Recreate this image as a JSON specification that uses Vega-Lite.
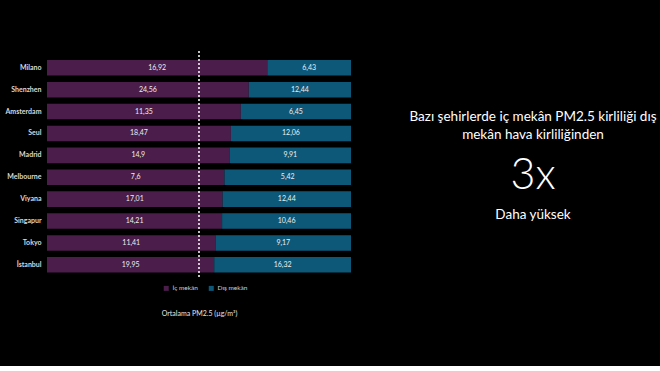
{
  "$schema": "https://vega.github.io/schema/vega-lite/v6.json",
  "background": "#000000",
  "padding": {"left": 4, "top": 50, "right": 2, "bottom": 50},
  "config": {
    "view": {"stroke": null},
    "font": "Lato",
    "concat": {"spacing": 52},
    "locale": {"number": {"decimal": ",", "thousands": ".", "grouping": [3], "currency": ["", " €"]}}
  },
  "datasets": {
    "pm": [
      {"city": "Milano", "type": "İç mekân", "value": 16.92},
      {"city": "Milano", "type": "Dış mekân", "value": 6.43},
      {"city": "Shenzhen", "type": "İç mekân", "value": 24.56},
      {"city": "Shenzhen", "type": "Dış mekân", "value": 12.44},
      {"city": "Amsterdam", "type": "İç mekân", "value": 11.35},
      {"city": "Amsterdam", "type": "Dış mekân", "value": 6.45},
      {"city": "Seul", "type": "İç mekân", "value": 18.47},
      {"city": "Seul", "type": "Dış mekân", "value": 12.06},
      {"city": "Madrid", "type": "İç mekân", "value": 14.9},
      {"city": "Madrid", "type": "Dış mekân", "value": 9.91},
      {"city": "Melbourne", "type": "İç mekân", "value": 7.6},
      {"city": "Melbourne", "type": "Dış mekân", "value": 5.42},
      {"city": "Viyana", "type": "İç mekân", "value": 17.01},
      {"city": "Viyana", "type": "Dış mekân", "value": 12.44},
      {"city": "Singapur", "type": "İç mekân", "value": 14.21},
      {"city": "Singapur", "type": "Dış mekân", "value": 10.46},
      {"city": "Tokyo", "type": "İç mekân", "value": 11.41},
      {"city": "Tokyo", "type": "Dış mekân", "value": 9.17},
      {"city": "İstanbul", "type": "İç mekân", "value": 19.95},
      {"city": "İstanbul", "type": "Dış mekân", "value": 16.32}
    ],
    "note": [
      {"head": ["Bazı şehirlerde iç mekân PM2.5 kirliliği dış", "mekân hava kirliliğinden"], "big": "3x", "sub": "Daha yüksek"}
    ]
  },
  "hconcat": [
    {
      "width": 304,
      "height": 227,
      "layer": [
        {
          "data": {"name": "pm"},
          "transform": [
            {"stack": "value", "groupby": ["city"], "sort": [{"field": "type", "order": "descending"}], "offset": "normalize", "as": ["x0", "x1"]}
          ],
          "mark": {"type": "bar"},
          "encoding": {
            "y": {
              "field": "city", "type": "nominal",
              "sort": ["Milano", "Shenzhen", "Amsterdam", "Seul", "Madrid", "Melbourne", "Viyana", "Singapur", "Tokyo", "İstanbul"],
              "scale": {"paddingInner": 0.29, "paddingOuter": 0.33, "align": 0.625, "round": false},
              "axis": {"title": null, "domain": false, "ticks": false, "labelPadding": 6, "labelFontSize": 7, "labelFontWeight": "bold", "labelColor": "#d9d9d9"}
            },
            "x": {
              "field": "x0", "type": "quantitative",
              "scale": {"domain": [0, 1]},
              "axis": {"labels": false, "ticks": false, "domain": false, "grid": false, "title": "Ortalama PM2.5 (µg/m³)", "titleFontSize": 7, "titleFontWeight": "normal", "titleColor": "#e6e6e6", "titlePadding": 31}
            },
            "x2": {"field": "x1"},
            "color": {
              "field": "type", "type": "nominal",
              "scale": {"domain": ["İç mekân", "Dış mekân"], "range": ["#4b1d4a", "#0d5878"]},
              "legend": {"orient": "none", "legendX": 116, "legendY": 234, "direction": "horizontal", "title": null, "symbolType": "square", "symbolSize": 25, "symbolStrokeWidth": 0, "labelFontSize": 6.5, "labelColor": "#d0d0d0", "columnSpacing": 5, "labelOffset": 3}
            }
          }
        },
        {
          "data": {"name": "pm"},
          "transform": [
            {"stack": "value", "groupby": ["city"], "sort": [{"field": "type", "order": "descending"}], "offset": "normalize", "as": ["x0", "x1"]},
            {"calculate": "(datum.x0 + datum.x1) / 2", "as": "mid"}
          ],
          "mark": {"type": "text", "fontSize": 7, "color": "#eeeeee"},
          "encoding": {
            "y": {"field": "city", "type": "nominal", "sort": ["Milano", "Shenzhen", "Amsterdam", "Seul", "Madrid", "Melbourne", "Viyana", "Singapur", "Tokyo", "İstanbul"]},
            "x": {"field": "mid", "type": "quantitative"},
            "text": {"field": "value", "type": "quantitative", "format": "~g"}
          }
        },
        {
          "data": {"values": [{}]},
          "mark": {"type": "rule", "color": "#ffffff", "strokeDash": [2, 2], "strokeWidth": 1.5},
          "encoding": {"x": {"datum": 0.5, "type": "quantitative"}}
        }
      ]
    },
    {
      "width": 260,
      "height": 227,
      "data": {"name": "note"},
      "layer": [
        {"mark": {"type": "text", "fontSize": 13.5, "color": "#ffffff", "lineHeight": 18, "baseline": "middle", "dy": -48}, "encoding": {"text": {"field": "head"}}},
        {"mark": {"type": "text", "fontSize": 43, "fontWeight": 300, "color": "#ffffff", "baseline": "middle", "dy": 11.5}, "encoding": {"text": {"field": "big"}}},
        {"mark": {"type": "text", "fontSize": 13.5, "color": "#ffffff", "baseline": "middle", "dy": 50}, "encoding": {"text": {"field": "sub"}}}
      ]
    }
  ]
}
